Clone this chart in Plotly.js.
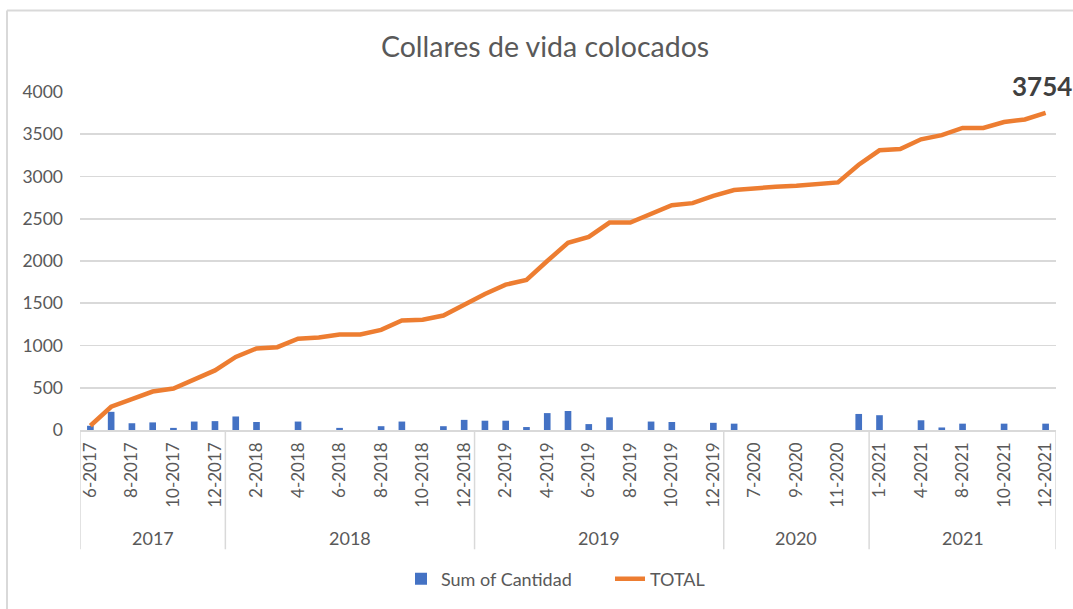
<!DOCTYPE html>
<html>
<head>
<meta charset="utf-8">
<script src="https://cdn.plot.ly/plotly-3.0.1.min.js"></script>
<style>
  html, body { margin: 0; padding: 0; background: #ffffff; }
  #chart { width: 1073px; height: 609px; }
</style>
</head>
<body>
<div id="chart"></div>
<script>
// ---- Data ----
const months = [
  '6-2017','7-2017','8-2017','9-2017','10-2017','11-2017','12-2017',
  '1-2018','2-2018','3-2018','4-2018','5-2018','6-2018','7-2018','8-2018','9-2018','10-2018','11-2018','12-2018',
  '1-2019','2-2019','3-2019','4-2019','5-2019','6-2019','7-2019','8-2019','9-2019','10-2019','11-2019','12-2019',
  '2-2020','7-2020','8-2020','9-2020','10-2020','11-2020','12-2020',
  '1-2021','3-2021','4-2021','6-2021','8-2021','9-2021','10-2021','11-2021','12-2021'
];
const years = ['2017', '2018', '2019', '2020', '2021'];
const yearCounts = [7, 12, 12, 7, 9];

const cantidad = [
  50, 215, 80, 90, 25, 100, 105,
  160, 95, 0, 100, 0, 25, 0, 45, 100, 0, 45, 120,
  110, 110, 35, 200, 225, 70, 150, 0, 100, 95, 0, 85,
  75, 0, 0, 0, 0, 0, 190,
  175, 0, 115, 30, 75, 0, 75, 0, 75
];
const total = [
  50, 275, 365, 455, 490, 600, 705,
  865, 965, 980, 1080, 1095, 1130, 1130, 1185, 1295, 1305, 1355, 1490,
  1610, 1720, 1775, 2000, 2215, 2285, 2455, 2455, 2560, 2660, 2685, 2770,
  2840, 2865, 2878, 2890, 2915, 2930, 3140,
  3310, 3325, 3440, 3490, 3575, 3575, 3645, 3675, 3754
];

const titleText = 'Collares de vida colocados';
const seriesNames = ['Sum of Cantidad', 'TOTAL'];

// ---- Styling ----
const FONT = 'Lato, "Open Sans", sans-serif';
const GRAY_TXT = '#595959';
const GRID = '#d9d9d9';

// plot area geometry (px) used to place paper-referenced decorations
const L = 80, R = 1056, T = 92, B = 432, W = 1073, H = 609;
const pw = R - L, ph = B - T;
const px = v => (v - L) / pw;
const py = v => (B - v) / ph;

const tickvals = months.filter((m, i) => i % 2 === 0);

const shapes = [];
const annotations = [];

// year group dividers and labels
let start = 0;
const bounds = [-0.5];
years.forEach((yr, k) => {
  const n = yearCounts[k];
  bounds.push(start + n - 0.5);
  annotations.push({
    x: start + (n - 1) / 2, xref: 'x',
    y: py(541), yref: 'paper',
    text: yr, showarrow: false,
    xanchor: 'center', yanchor: 'middle',
    font: { family: FONT, size: 18, color: GRAY_TXT }
  });
  start += n;
});
bounds.forEach(b => {
  shapes.push({
    type: 'line', xref: 'x', yref: 'paper',
    x0: b, x1: b, y0: 0, y1: py(552),
    line: { color: GRID, width: 1.5 }
  });
});

// outer chart-area border (top and left edges visible in reference)
shapes.push({ type: 'line', xref: 'paper', yref: 'paper', x0: px(7), x1: px(1080), y0: py(10), y1: py(10), line: { color: GRID, width: 2 } });
shapes.push({ type: 'line', xref: 'paper', yref: 'paper', x0: px(7), x1: px(7), y0: py(10), y1: py(620), line: { color: GRID, width: 2 } });

// last value label
const lastIdx = total.length - 1;
annotations.push({
  x: months[lastIdx], y: total[lastIdx], xref: 'x', yref: 'y',
  text: '<b>' + total[lastIdx] + '</b>', showarrow: false,
  xanchor: 'center', yanchor: 'middle', yshift: 27, xshift: -4,
  font: { family: FONT, size: 26, color: '#404040' }
});

const traces = [
  {
    type: 'bar', name: seriesNames[0],
    x: months, y: cantidad,
    marker: { color: '#4472C4' },
    hoverinfo: 'x+y'
  },
  {
    type: 'scatter', mode: 'lines', name: seriesNames[1],
    x: months, y: total,
    line: { color: '#ED7D31', width: 4.5 },
    hoverinfo: 'x+y'
  }
];

const layout = {
  width: W, height: H,
  margin: { l: L, r: W - R, t: T, b: H - B, pad: 0 },
  paper_bgcolor: '#ffffff', plot_bgcolor: '#ffffff',
  font: { family: FONT, color: GRAY_TXT },
  title: {
    text: titleText,
    x: 0.508, xref: 'container', xanchor: 'center',
    y: 1 - 47 / H, yref: 'container', yanchor: 'middle',
    font: { family: FONT, size: 28.5, color: GRAY_TXT }
  },
  bargap: 0.68,
  showlegend: true,
  legend: {
    orientation: 'h',
    x: px(401), xanchor: 'left',
    y: py(582), yanchor: 'middle',
    entrywidth: 164, entrywidthmode: 'pixels',
    font: { family: FONT, size: 18, color: GRAY_TXT },
    traceorder: 'normal'
  },
  xaxis: {
    type: 'category',
    categoryorder: 'array', categoryarray: months,
    range: [-0.5, months.length - 0.5],
    tickmode: 'array', tickvals: tickvals, ticktext: tickvals,
    tickangle: -90,
    tickfont: { family: FONT, size: 17, color: GRAY_TXT },
    showline: true, linecolor: GRID, linewidth: 1.5,
    showgrid: false, ticks: '', ticklabelstandoff: 4,
    fixedrange: true
  },
  yaxis: {
    range: [0, 4000], dtick: 500, tick0: 0,
    showgrid: true, gridcolor: GRID, gridwidth: 1.8,
    zeroline: false, showline: false, ticks: '',
    tickfont: { family: FONT, size: 17.5, color: GRAY_TXT },
    ticklabelstandoff: 16,
    fixedrange: true
  },
  shapes: shapes,
  annotations: annotations
};

Plotly.newPlot('chart', traces, layout, { displayModeBar: false, staticPlot: true });
</script>
</body>
</html>
